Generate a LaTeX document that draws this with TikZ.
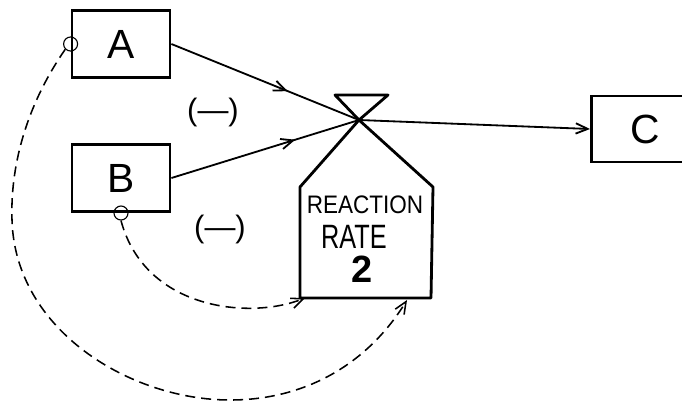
\documentclass[tikz,border=0pt]{standalone}
\usepackage{fontspec}
\setmainfont{Liberation Sans}
\usetikzlibrary{arrows.meta, positioning, calc, decorations.markings}

\begin{document}
\begin{tikzpicture}[
    x=0.025cm, y=-0.025cm,
    level/.style={rectangle, draw, line width=2pt, minimum width=2.45cm, minimum height=1.68cm, font=\fontsize{29}{30}\selectfont},
    tap/.style={circle, draw, line width=0.8pt, minimum size=0.35cm, inner sep=0pt},
    gate/.style={line width=2pt, line join=round},
    flow/.style={line width=1.3pt},
    arrow/.style={-{Straight Barb[length=3mm, width=2.6mm]}, line width=1.3pt},
    midarrow/.style={flow, postaction={decorate}, decoration={markings, mark=at position #1 with {\arrow{Straight Barb[length=3mm, width=2.6mm]}}}},
    info/.style={-{Straight Barb[length=3mm, width=2.6mm]}, line width=1.1pt, dash pattern=on 0.25cm off 0.15cm},
    sign/.style={font=\fontsize{22}{24}\selectfont},
    ratetext/.style={inner sep=0pt}
]
\useasboundingbox (0,0) rectangle (682,402);
\clip (0,0) rectangle (682,402);

% LEVELS
\node[level] (A) at (121,44) {A};
\node[level] (B) at (121,178) {B};
\node[level, minimum width=2.7cm, minimum height=1.65cm, anchor=west] (C) at (590,129) {C\hspace{0.35cm}};

% Taps for the information links
\node[tap] (Atap) at (A.west) {};
\node[tap] (Btap) at (B.south) {};

% RATE (valve on top, body below)
\coordinate (valve) at (359,120);
\draw[gate] (335,95) -- (388,95) -- (valve) -- cycle;
\draw[gate] (valve) -- (300,187) -- (300,298) -- (431,298) -- (433,187) -- cycle;
\node[ratetext, font=\fontsize{18}{18}\selectfont] (rateName) at (365,205) {\scalebox{0.89}[1]{REACTION}};
\node[ratetext, font=\fontsize{24}{24}\selectfont] (rateWord) at (354,237) {\scalebox{0.75}[1]{RATE}};
\node[ratetext, font=\bfseries\fontsize{27}{27}\selectfont] (rateNum) at (362,269) {2};

% Ends of the information links on the rate body
\coordinate (rateL) at (305,298);
\coordinate (rateR) at (407,300);

% Signs
\node[sign] (signA) at (213,112) {(—)};
\node[sign] (signB) at (220,229) {(—)};

% FLOWS
\draw[midarrow=0.62] (A.east) -- (valve);
\draw[midarrow=0.66] (B.east) -- (valve);
\draw[arrow] (valve) -- (C.west);

% INFORMATION LINKS
\draw[info] (Btap.south) .. controls (145,310) and (250,320) .. (rateL);
\draw[info] (Atap.south west) .. controls (30,100) and (10,160) .. (12,220)
    .. controls (15,330) and (130,400) .. (230,400)
    .. controls (310,400) and (370,360) .. (rateR);

\end{tikzpicture}
\end{document}
